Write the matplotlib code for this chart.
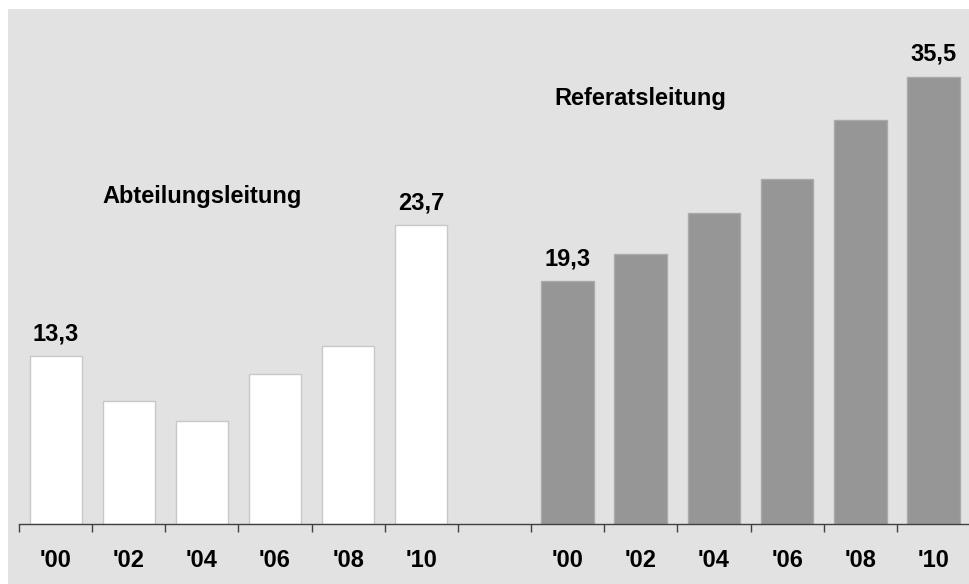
import matplotlib.pyplot as plt
from matplotlib.patches import Rectangle

# Data
years = ["'00", "'02", "'04", "'06", "'08", "'10"]
abteilung = [13.3, 9.8, 8.2, 11.9, 14.1, 23.7]
referat = [19.3, 21.4, 24.7, 27.4, 32.1, 35.5]
labels_abt = {0: "13,3", 5: "23,7"}
labels_ref = {0: "19,3", 5: "35,5"}

plt.rcParams['font.family'] = ['Liberation Sans', 'DejaVu Sans']
plt.rcParams['font.weight'] = 'bold'

fig = plt.figure(figsize=(9.7, 5.84), dpi=100)
fig.add_artist(Rectangle((8 / 970, 0), 1, 575 / 584, transform=fig.transFigure,
                         facecolor='#e2e2e2', edgecolor='none', zorder=-10))

ax = fig.add_axes([19 / 970, 60 / 584, 951 / 970, 515 / 584])
ax.patch.set_alpha(0)

x_left = list(range(6))
x_right = [i + 7 for i in range(6)]

ax.bar(x_left, abteilung, width=0.71, color='white', edgecolor='#c8c8c8', linewidth=1)
ax.bar(x_right, referat, width=0.72, color='#969696', edgecolor='#aaaaaa', linewidth=1)

fs = 17
for i, txt in labels_abt.items():
    ax.annotate(txt, (x_left[i], abteilung[i]), xytext=(0, 16), textcoords='offset points',
                ha='center', va='center', fontsize=fs, fontweight='bold')
for i, txt in labels_ref.items():
    ax.annotate(txt, (x_right[i], referat[i]), xytext=(0, 16), textcoords='offset points',
                ha='center', va='center', fontsize=fs, fontweight='bold')

ax.text(2.0, 26.0, "Abteilungsleitung", ha='center', va='center', fontsize=fs, fontweight='bold')
ax.text(8.0, 33.8, "Referatsleitung", ha='center', va='center', fontsize=fs, fontweight='bold')

ax.set_xlim(-0.5, 12.5)
ax.set_ylim(0, 515 / 12.6)

for s in ['top', 'right', 'left']:
    ax.spines[s].set_visible(False)
ax.spines['bottom'].set_color('#404040')
ax.spines['bottom'].set_linewidth(1)

ax.set_yticks([])
ax.set_xticks(x_left + x_right)
ax.set_xticklabels(years + years, fontsize=fs, fontweight='bold')
ax.tick_params(axis='x', which='major', length=0, pad=18)
ax.set_xticks([i - 0.5 for i in range(13)], minor=True)
ax.tick_params(axis='x', which='minor', length=6, width=1, color='#404040')

fig.savefig('out.png', dpi=100)
